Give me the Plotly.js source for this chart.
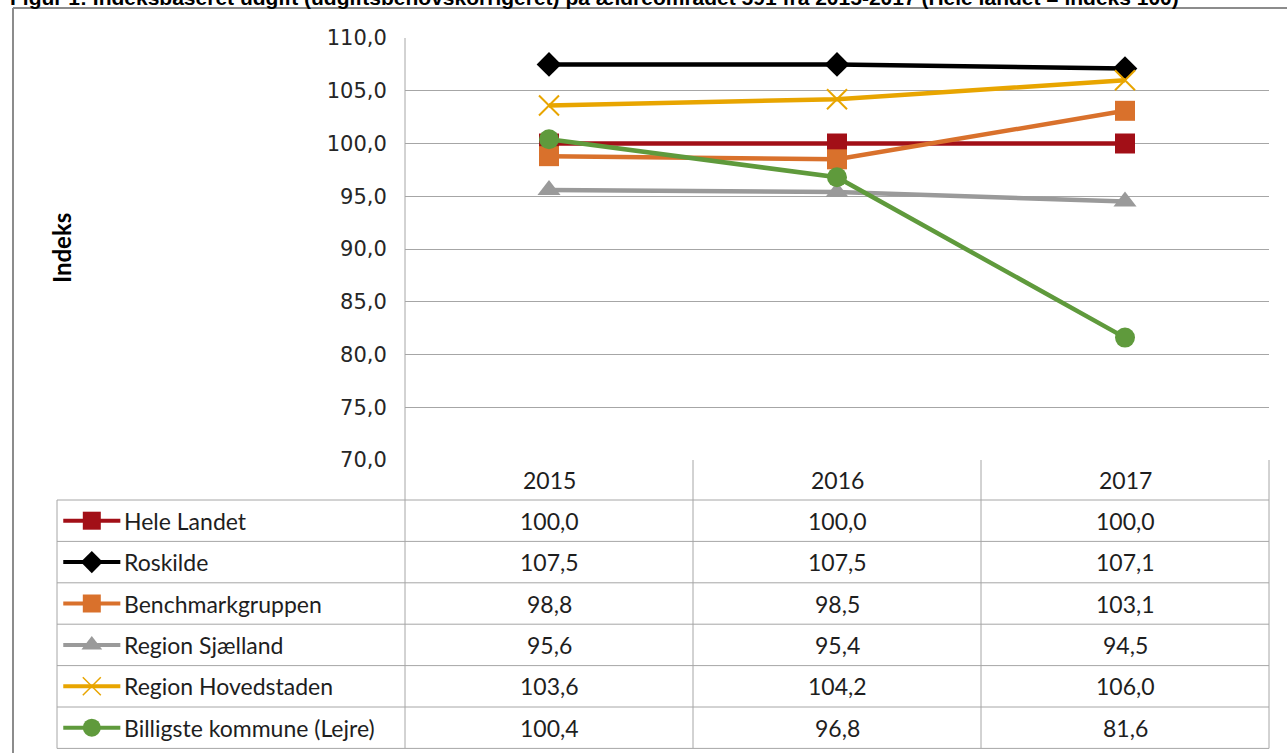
<!DOCTYPE html>
<html>
<head>
<meta charset="utf-8">
<script src="https://cdn.plot.ly/plotly-3.0.1.min.js"></script>
<style>html,body{margin:0;padding:0;background:#fff;}#chart{width:1287px;height:753px;}</style>
</head>
<body>
<div id="chart"></div>
<script>
const years = ["2015", "2016", "2017"];
const seriesNames = ["Hele Landet", "Roskilde", "Benchmarkgruppen", "Region Sjælland", "Region Hovedstaden", "Billigste kommune (Lejre)"];
const heleLandet = [100.0, 100.0, 100.0];
const roskilde = [107.5, 107.5, 107.1];
const benchmark = [98.8, 98.5, 103.1];
const sjaelland = [95.6, 95.4, 94.5];
const hovedstaden = [103.6, 104.2, 106.0];
const billigste = [100.4, 96.8, 81.6];
const yTicks = [70, 75, 80, 85, 90, 95, 100, 105, 110];
const titleText = "Figur 1: Indeksbaseret udgift (udgiftsbehovskorrigeret) på ældreområdet 591 fra 2015-2017 (Hele landet = indeks 100)";

const values = [heleLandet, roskilde, benchmark, sjaelland, hovedstaden, billigste];
const colors = ["#A20F17", "#000000", "#D9712C", "#9A9A9A", "#E8A500", "#5F9A3C"];
const symbols = ["square", "diamond", "square", "triangle-up", "x-thin-open", "circle"];
const sizes = [20, 19, 20, 20, 20, 20];

const W = 1287, H = 753;
const px = x => x / W;
const py = y => 1 - y / H;

// layout geometry (pixels)
const plotL = 405, plotR = 1269, plotT = 38, plotB = 460;
const legL = 57;
const headerTop = 460, rowTop = 500, rowH = 41.4;
const nRows = seriesNames.length;
const tableBottom = rowTop + rowH * nRows;
const gridCol = "#A6A6A6";
const textCol = "#1E1E1E";
const tableFont = {family: "Lato, 'Open Sans', sans-serif", size: 23, color: textCol};

const traces = [];
values.forEach((v, i) => {
  traces.push({
    type: "scatter", mode: "lines+markers", x: years, y: v, name: seriesNames[i],
    line: {color: colors[i], width: 4.5},
    marker: {symbol: symbols[i], size: sizes[i], color: colors[i],
             line: {color: colors[i], width: symbols[i] === "x-thin-open" ? 2 : 0}},
    showlegend: false, cliponaxis: false, hoverinfo: "x+y+name"
  });
  // legend key inside table
  traces.push({
    type: "scatter", mode: "lines", x: [0.018, 0.182], y: [i + 0.5, i + 0.5],
    xaxis: "x2", yaxis: "y2", line: {color: colors[i], width: 4},
    showlegend: false, hoverinfo: "skip", cliponaxis: false
  });
  traces.push({
    type: "scatter", mode: "markers", x: [0.1], y: [i + 0.5],
    xaxis: "x2", yaxis: "y2",
    marker: {symbol: symbols[i], size: sizes[i] - 2, color: colors[i],
             line: {color: colors[i], width: symbols[i] === "x-thin-open" ? 1.5 : 0}},
    showlegend: false, hoverinfo: "skip", cliponaxis: false
  });
});

const shapes = [];
const line = (x0, y0, x1, y1, color, width) => shapes.push({
  type: "line", xref: "paper", yref: "paper",
  x0: px(x0), y0: py(y0), x1: px(x1), y1: py(y1),
  line: {color: color || gridCol, width: width || 1}
});
// outer frame
line(13, 8, 1287, 8, "#8C8C8C", 2);
line(13, 8, 13, 753, "#8C8C8C", 2);
// left axis line through table
line(plotL, plotT, plotL, tableBottom);
// table verticals
[1, 2, 3].forEach(k => line(plotL + k * (plotR - plotL) / 3, headerTop, plotL + k * (plotR - plotL) / 3, tableBottom));
line(legL, rowTop, legL, tableBottom);
// table horizontals
for (let r = 0; r <= nRows; r++) line(legL, rowTop + r * rowH, plotR, rowTop + r * rowH);

const annotations = [];
annotations.push({
  text: "<b>" + titleText + "</b>", xref: "paper", yref: "paper", x: px(8), y: py(11),
  xanchor: "left", yanchor: "bottom", showarrow: false,
  font: {family: "'Liberation Sans', Arial, sans-serif", size: 21, color: "#000"}
});
annotations.push({
  text: "<b>Indeks</b>", xref: "paper", yref: "paper", x: px(62), y: py(248),
  xanchor: "center", yanchor: "middle", textangle: -90, showarrow: false,
  font: {family: "Lato, 'Open Sans', sans-serif", size: 24, color: "#000"}
});
years.forEach((yr, j) => {
  annotations.push({text: yr, xref: "x", yref: "paper", x: j, y: py(headerTop + 20),
    xanchor: "center", yanchor: "middle", showarrow: false, font: tableFont});
});
seriesNames.forEach((name, i) => {
  const yc = py(rowTop + rowH * (i + 0.5));
  annotations.push({text: name, xref: "paper", yref: "paper", x: px(122), y: yc,
    xanchor: "left", yanchor: "middle", showarrow: false, font: tableFont});
  values[i].forEach((v, j) => {
    annotations.push({text: v.toFixed(1).replace(".", ","), xref: "x", yref: "paper",
      x: j, y: yc, xanchor: "center", yanchor: "middle", showarrow: false, font: tableFont});
  });
});

const layout = {
  width: W, height: H,
  margin: {l: 0, r: 0, t: 0, b: 0},
  paper_bgcolor: "#fff", plot_bgcolor: "#fff",
  separators: ", ",
  showlegend: false,
  xaxis: {
    type: "category", categoryorder: "array", categoryarray: years,
    range: [-0.5, 2.5], domain: [px(plotL), px(plotR)], anchor: "y",
    showgrid: false, zeroline: false, showline: false, showticklabels: false, ticks: ""
  },
  yaxis: {
    range: [70, 110], domain: [py(plotB), py(plotT)], anchor: "x",
    tickvals: yTicks, tickformat: ".1f",
    showgrid: true, gridcolor: gridCol, gridwidth: 1, zeroline: false, showline: false,
    ticks: "outside", ticklen: 13, tickcolor: "rgba(0,0,0,0)",
    tickfont: {family: "'DejaVu Sans', Verdana, sans-serif", size: 21, color: "#262626"}
  },
  xaxis2: {range: [0, 1], domain: [px(legL), px(plotL)], anchor: "y2",
    visible: false, fixedrange: true},
  yaxis2: {range: [nRows, 0], domain: [py(tableBottom), py(rowTop)], anchor: "x2",
    visible: false, fixedrange: true},
  shapes: shapes,
  annotations: annotations
};

Plotly.newPlot("chart", traces, layout, {displayModeBar: false, staticPlot: true});
</script>
</body>
</html>
